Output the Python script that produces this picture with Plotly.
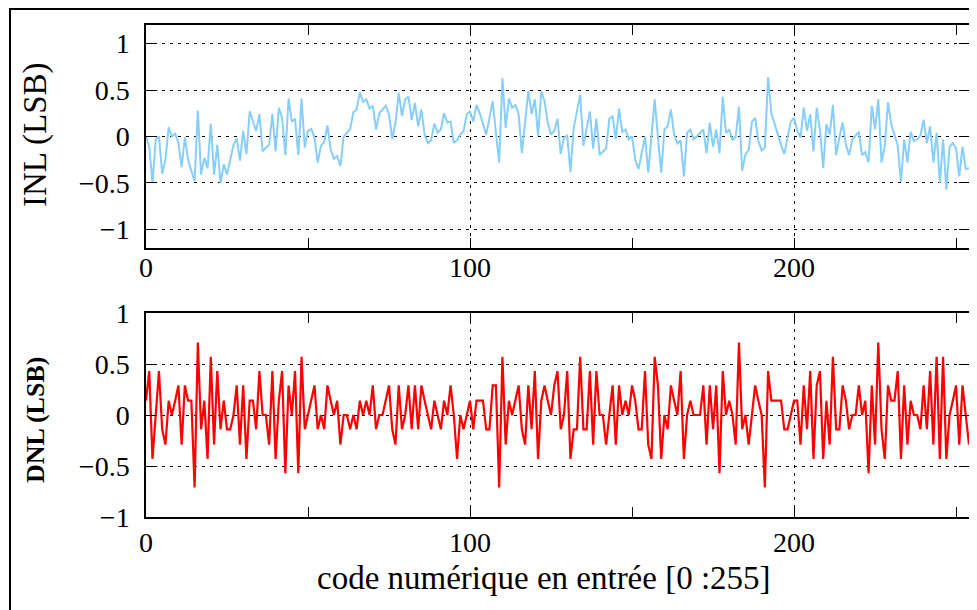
import plotly.graph_objects as go

# INL (LSB) per input code 0..254
inl = [
    0.00, -0.11, -0.50, -0.03, 0.00, -0.40, -0.25, 0.10, 0.00, 0.03,
    -0.07, -0.33, -0.01, -0.25, -0.37, -0.48, 0.28, -0.41, -0.23, -0.34,
    0.14, -0.41, -0.09, -0.50, -0.30, -0.41, -0.25, -0.09, -0.02, -0.26,
    0.06, -0.19, 0.27, 0.16, 0.06, 0.24, -0.16, -0.12, -0.09, 0.24,
    -0.16, 0.31, 0.20, -0.20, 0.41, 0.16, 0.19, -0.20, 0.41, -0.12,
    0.06, 0.08, -0.01, -0.28, -0.10, -0.06, 0.12, -0.14, -0.24, -0.21,
    -0.32, 0.00, 0.04, 0.08, 0.26, 0.29, 0.475, 0.37, 0.40, 0.30,
    0.33, 0.075, 0.25, 0.29, 0.33, 0.24, -0.03, 0.15, 0.47, 0.22,
    0.40, 0.43, 0.18, 0.36, 0.11, 0.29, 0.02, -0.07, -0.04, 0.14,
    0.04, 0.075, 0.25, 0.15, 0.16, -0.07, -0.04, 0.02, 0.06, 0.24,
    0.27, 0.16, 0.34, 0.25, 0.13, 0.02, 0.20, 0.38, 0.04, -0.28,
    0.63, 0.09, 0.41, 0.31, 0.34, 0.24, -0.18, 0.16, 0.49, 0.24,
    0.40, 0.01, 0.49, 0.38, 0.15, 0.02, 0.06, 0.19, -0.19, -0.01,
    0.01, -0.38, 0.09, 0.27, 0.45, -0.10, 0.09, 0.27, -0.13, 0.19,
    -0.20, -0.17, -0.13, 0.19, 0.22, -0.03, 0.30, 0.05, 0.075, -0.03,
    0.00, -0.25, -0.35, -0.18, 0.00, -0.39, -0.03, 0.40, -0.01, -0.39,
    0.075, 0.11, 0.29, 0.02, -0.075, -0.04, -0.43, 0.04, 0.075, -0.03,
    0.00, 0.04, 0.075, -0.18, 0.15, -0.11, 0.075, -0.18, 0.43, 0.04,
    0.07, -0.04, 0.00, 0.32, -0.37, -0.19, -0.15, 0.16, 0.20, -0.05,
    -0.15, -0.12, 0.64, 0.25, 0.13, 0.02, -0.09, -0.19, 0.00, 0.16,
    0.20, 0.06, -0.01, 0.31, 0.06, 0.24, -0.16, 0.31, 0.075, -0.34,
    0.13, 0.02, 0.34, -0.20, -0.01, 0.15, -0.09, -0.20, -0.03, 0.01,
    0.05, -0.20, -0.17, -0.28, 0.33, 0.08, 0.40, -0.28, -0.10, 0.37,
    0.13, 0.02, -0.10, -0.49, -0.03, -0.28, 0.05, -0.05, -0.03, 0.01,
    0.18, -0.07, 0.11, -0.28, 0.04, -0.50, -0.03, -0.57, -0.11, -0.07,
    -0.13, -0.43, -0.11, -0.35, -0.34,
]

# DNL (LSB) per input code 0..254
dnl = [
    0.14, 0.43, -0.43, 0.00, 0.43, -0.14, -0.29, 0.14, 0.00, 0.14,
    0.29, -0.29, 0.29, 0.14, 0.14, -0.71, 0.71, -0.14, 0.14, -0.43,
    0.57, -0.29, 0.43, -0.14, 0.14, -0.14, -0.14, 0.00, 0.29, -0.29,
    0.29, -0.43, 0.14, 0.14, -0.14, 0.43, 0.00, 0.00, -0.29, 0.43,
    -0.43, 0.14, 0.43, -0.57, 0.29, 0.00, 0.43, -0.57, 0.57, -0.14,
    0.00, 0.14, 0.29, -0.14, 0.00, -0.14, 0.29, 0.14, 0.00, 0.14,
    -0.29, 0.00, 0.00, -0.14, 0.00, -0.14, 0.14, 0.00, 0.14, 0.00,
    0.29, -0.14, 0.00, 0.00, 0.14, 0.29, -0.14, -0.29, 0.29, -0.14,
    0.00, 0.29, -0.14, 0.29, -0.14, 0.29, 0.14, 0.00, -0.14, 0.14,
    0.00, -0.14, 0.14, 0.00, 0.29, 0.00, -0.43, 0.00, -0.14, 0.00,
    0.14, -0.14, 0.14, 0.14, 0.14, -0.14, -0.14, 0.29, 0.29, -0.71,
    0.57, -0.29, 0.14, 0.00, 0.14, 0.29, -0.14, -0.29, 0.29, -0.14,
    0.43, -0.43, 0.14, 0.29, 0.14, 0.00, 0.29, 0.43, -0.14, 0.00,
    0.43, -0.43, -0.14, -0.14, 0.57, -0.14, -0.14, 0.43, -0.29, 0.43,
    0.00, 0.00, -0.29, 0.00, 0.29, -0.29, 0.29, 0.00, 0.14, 0.00,
    0.29, 0.14, -0.14, -0.14, 0.43, -0.29, -0.43, 0.57, 0.29, -0.43,
    0.00, -0.14, 0.29, 0.14, 0.00, 0.43, -0.43, 0.00, 0.14, 0.00,
    0.00, 0.00, 0.29, -0.29, 0.29, -0.14, 0.29, -0.57, 0.43, 0.00,
    0.14, 0.00, -0.29, 0.71, -0.14, 0.00, -0.29, 0.00, 0.29, 0.14,
    0.00, -0.71, 0.43, 0.14, 0.14, 0.14, 0.14, -0.14, -0.14, 0.00,
    0.14, 0.14, -0.29, 0.29, -0.14, 0.43, -0.43, 0.29, 0.43, -0.43,
    0.14, -0.29, 0.57, -0.14, -0.14, 0.29, 0.14, -0.14, 0.00, 0.00,
    0.29, 0.00, 0.14, -0.57, 0.29, -0.29, 0.71, -0.14, -0.43, 0.29,
    0.14, 0.14, 0.43, -0.43, 0.29, -0.29, 0.14, 0.00, 0.00, -0.14,
    0.29, -0.14, 0.43, -0.29, 0.57, -0.43, 0.57, -0.43, 0.00, 0.14,
    0.29, -0.29, 0.29, 0.00, -0.29,
]

codes = list(range(len(inl)))
x_major = [0, 100, 200]
x_minor = [50, 150, 250]
y_ticks = [-1, -0.5, 0, 0.5, 1]

W, H = 977, 610
OFF = 8  # page body margin of the browser
FONT = "Liberation Serif"


def px(v):
    return (v - OFF) / W


def py(v):
    return 1 - (v - OFF) / H


fig = go.Figure()
fig.add_trace(go.Scatter(x=codes, y=inl, mode="lines",
                         line=dict(color="#87CEFA", width=2),
                         xaxis="x", yaxis="y", showlegend=False))
fig.add_trace(go.Scatter(x=codes, y=dnl, mode="lines",
                         line=dict(color="#FF0000", width=2.2),
                         xaxis="x2", yaxis="y2", showlegend=False))

common_x = dict(
    range=[0, 254], tickvals=x_major, ticks="inside", ticklen=10,
    tickcolor="black", tickwidth=1, showline=True, linecolor="black",
    linewidth=1.5, mirror="allticks", showgrid=True, gridcolor="black",
    griddash="3px,5px", gridwidth=1, zeroline=False, automargin=False,
    tickfont=dict(family=FONT, size=28, color="black"),
    minor=dict(tickvals=x_minor, ticks="inside", ticklen=10,
               tickcolor="black", tickwidth=1, showgrid=False),
)
common_y = dict(
    tickvals=y_ticks, ticks="inside", ticklen=10, tickcolor="black",
    tickwidth=1, showline=True, linecolor="black", linewidth=1.5,
    mirror="allticks", showgrid=True, gridcolor="black",
    griddash="3px,5px", gridwidth=1, zeroline=False, automargin=False,
    tickfont=dict(family=FONT, size=28, color="black"),
    ticklabelstandoff=9,
)

fig.update_layout(
    width=W, height=H,
    margin=dict(l=0, r=0, t=0, b=0, pad=0),
    paper_bgcolor="white", plot_bgcolor="white",
    font=dict(family=FONT, color="black"),
    xaxis=dict(domain=[px(146), px(969)], anchor="y",
               ticklabelstandoff=-6, **common_x),
    yaxis=dict(domain=[py(248), py(25)], anchor="x", range=[-1.2, 1.2],
               **common_y),
    xaxis2=dict(domain=[px(146), px(969)], anchor="y2",
                ticklabelstandoff=0, **common_x),
    yaxis2=dict(domain=[py(517), py(313)], anchor="x2", range=[-1, 1],
                **common_y),
    annotations=[
        dict(text="INL (LSB)", x=px(36), y=py(135), xref="paper",
             yref="paper", textangle=-90, showarrow=False,
             xanchor="center", yanchor="middle",
             font=dict(family=FONT, size=33, color="black")),
        dict(text="<b>DNL (LSB)</b>", x=px(35), y=py(420), xref="paper",
             yref="paper", textangle=-90, showarrow=False,
             xanchor="center", yanchor="middle",
             font=dict(family=FONT, size=26, color="black")),
        dict(text="code numérique en entrée [0 :255]", x=px(544),
             y=py(578), xref="paper", yref="paper", showarrow=False,
             xanchor="center", yanchor="middle",
             font=dict(family=FONT, size=33, color="black")),
    ],
    shapes=[
        dict(type="rect", xref="paper", yref="paper",
             x0=px(10), x1=1.05, y0=-0.05, y1=py(9),
             line=dict(color="black", width=2), fillcolor="rgba(0,0,0,0)",
             layer="above"),
    ],
)

fig.write_html("out.html")
